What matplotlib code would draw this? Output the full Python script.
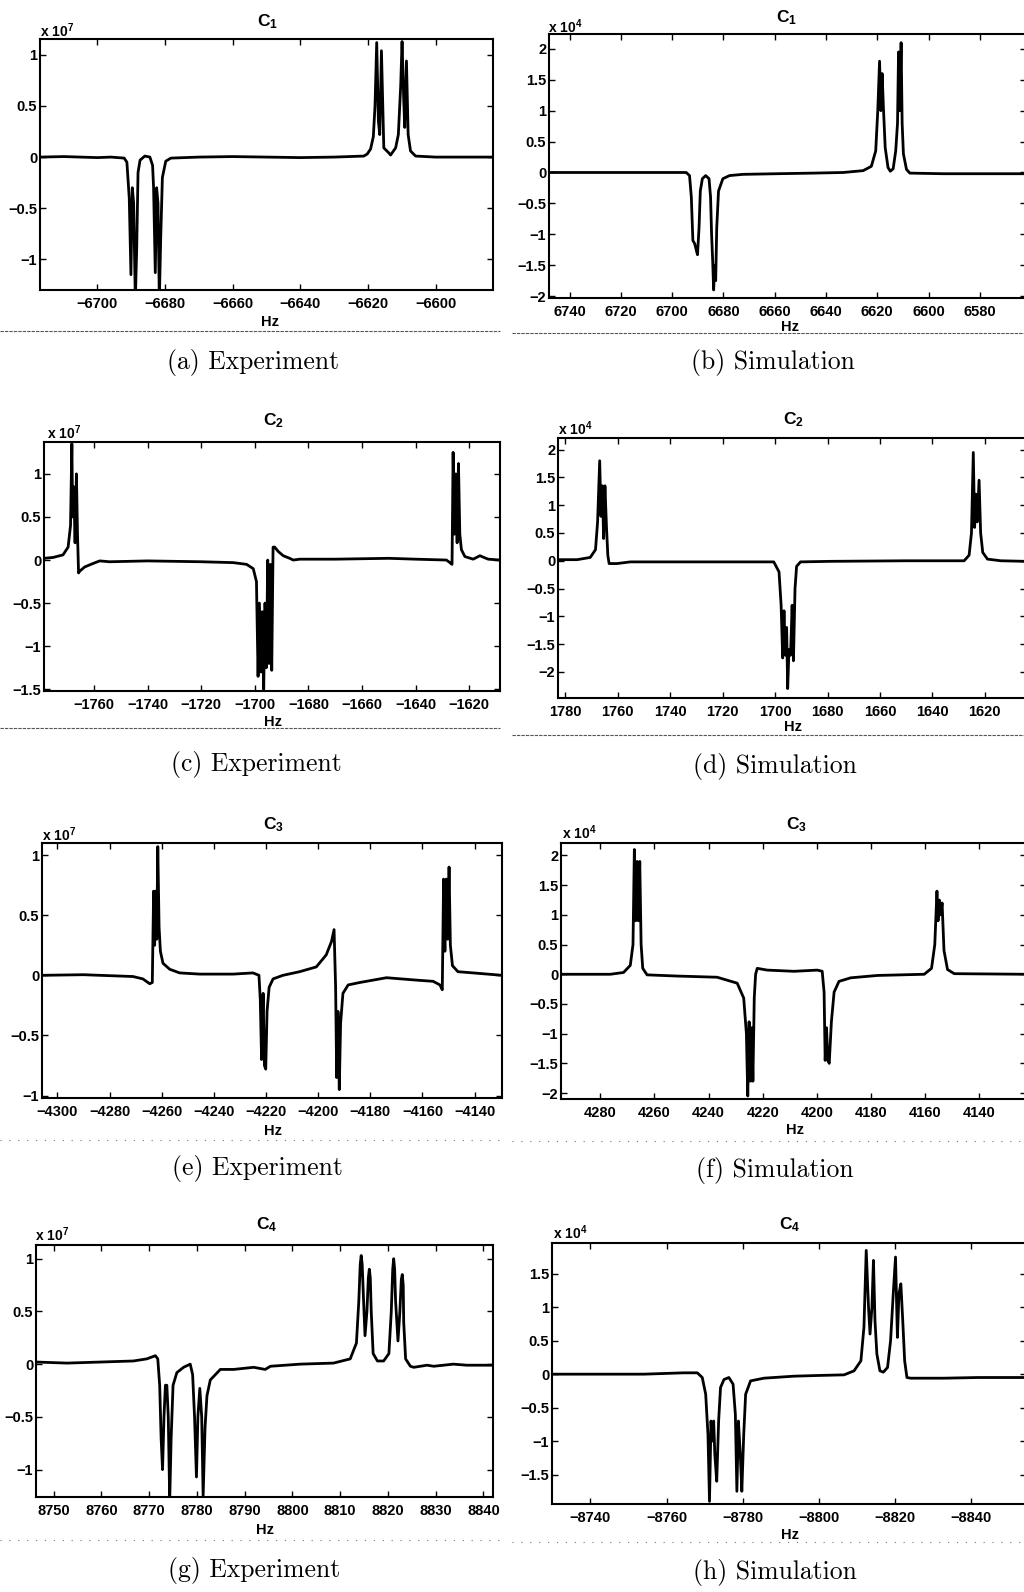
import numpy as np
import matplotlib
matplotlib.use('Agg')
import matplotlib.pyplot as plt
from matplotlib.ticker import FuncFormatter
from matplotlib.lines import Line2D

plt.rcParams['font.family'] = 'Liberation Sans'
plt.rcParams['font.weight'] = 'bold'
plt.rcParams['mathtext.fontset'] = 'custom'
plt.rcParams['mathtext.rm'] = 'Liberation Sans:bold'
plt.rcParams['mathtext.bf'] = 'Liberation Sans:bold'
plt.rcParams['mathtext.default'] = 'rm'

# ---------- spectra (amplitude in units of the axis multiplier) ----------
# (a) C1 experiment, x 10^7
a_hz = [-6717, -6710, -6700, -6696, -6692.1, -6691.3, -6690.6, -6690.1, -6689.7, -6689.3,
        -6688.8, -6688.4, -6688.0, -6687.4, -6686.0, -6684.5, -6683.7, -6683.4, -6682.9, -6682.5,
        -6682.1, -6681.7, -6681.3, -6680.8, -6679.8, -6678.3, -6670, -6660, -6650, -6640,
        -6630, -6621.2, -6620.2, -6619.2, -6618.4, -6617.9, -6617.4, -6616.9, -6616.5, -6616.0,
        -6615.3, -6613.8, -6613.3, -6611.8, -6611.0, -6610.3, -6609.9, -6609.4, -6609.1, -6608.6,
        -6608.1, -6607.4, -6605.9, -6600, -6590, -6583]
a_amp = [0.0, 0.005, -0.005, 0.0, -0.01, -0.05, -0.4, -1.15, -0.3, -0.45,
         -1.4, -0.9, -0.15, -0.03, 0.01, 0.0, -0.08, -0.3, -1.13, -0.3,
         -0.45, -1.4, -0.8, -0.2, -0.04, -0.01, 0.0, 0.005, 0.0, -0.005,
         0.0, 0.01, 0.03, 0.08, 0.2, 0.5, 1.12, 0.35, 0.22, 1.04,
         0.09, 0.04, 0.02, 0.09, 0.22, 0.7, 1.13, 0.55, 0.29, 0.94,
         0.22, 0.06, 0.01, 0.0, 0.0, 0.0]

# (b) C1 simulation, x 10^4
b_hz = [6748, 6730, 6710, 6694.5, 6693.2, 6692.5, 6691.9, 6691.2, 6690.6, 6690.1,
        6689.5, 6689.0, 6688.2, 6686.9, 6685.6, 6685.0, 6684.6, 6684.2, 6683.8, 6683.4,
        6683.0, 6682.6, 6681.9, 6680.2, 6677.6, 6672.4, 6659.3, 6645, 6633.3, 6625.5,
        6622.3, 6620.6, 6619.8, 6619.1, 6618.6, 6618.1, 6617.6, 6616.9, 6615.8, 6614.9,
        6613.8, 6612.8, 6612.1, 6611.7, 6611.2, 6610.7, 6610.3, 6609.8, 6608.6, 6607.3,
        6594.3, 6580, 6562]
b_amp = [0.0, 0.0, 0.0, 0.0, -0.05, -0.4, -1.1, -1.15, -1.25, -1.33,
         -0.9, -0.3, -0.1, -0.05, -0.1, -0.4, -1.0, -1.4, -1.9, -1.5,
         -1.75, -0.9, -0.3, -0.1, -0.05, -0.03, -0.02, -0.01, 0.0, 0.03,
         0.1, 0.35, 1.0, 1.8, 1.0, 1.6, 1.05, 0.4, 0.08, 0.02,
         0.06, 0.35, 0.8, 1.95, 1.0, 2.1, 0.8, 0.3, 0.05, -0.01,
         -0.02, -0.02, -0.02]

# (c) C2 experiment, x 10^7
c_hz = [-1778.7, -1775.3, -1771.6, -1769.7, -1768.8, -1768.3, -1768.0, -1767.6, -1767.1, -1766.6,
        -1766.2, -1765.8, -1765.4, -1763.5, -1760.4, -1757.9, -1754.2, -1740, -1720, -1708.1,
        -1703.1, -1700.6, -1699.4, -1698.8, -1698.3, -1697.7, -1697.2, -1696.7, -1696.2, -1695.7,
        -1695.2, -1694.7, -1694.2, -1693.7, -1693.2, -1692.6, -1691.3, -1689.4, -1687.0, -1685.7,
        -1683.2, -1670, -1650, -1640, -1628.5, -1627.2, -1626.4, -1626.0, -1625.5, -1625.0,
        -1624.5, -1624.0, -1623.5, -1622.9, -1621.6, -1618.5, -1616.0, -1614.5, -1612.9, -1608.5]
c_amp = [0.02, 0.03, 0.06, 0.15, 0.4, 1.35, 0.5, 0.85, 0.2, 1.0,
         0.3, -0.15, -0.13, -0.08, -0.04, -0.01, -0.02, -0.01, -0.02, -0.03,
         -0.05, -0.1, -0.25, -1.35, -0.5, -1.3, -0.6, -1.5, -0.5, -1.25,
         0.0, -1.2, -0.05, -1.28, 0.15, 0.15, 0.1, 0.05, 0.02, 0.0,
         0.01, 0.01, 0.02, 0.01, 0.0, -0.03, -0.05, 1.25, 0.3, 1.0,
         0.2, 1.12, 0.3, 0.12, 0.04, 0.01, 0.05, 0.03, 0.01, 0.0]

# (d) C2 simulation, x 10^4
d_hz = [1782.8, 1775.5, 1770.5, 1768.5, 1767.7, 1766.9, 1766.4, 1765.9, 1765.4, 1764.9,
        1764.3, 1763.8, 1763.3, 1760.3, 1755.2, 1737.4, 1720, 1700.5, 1698.5, 1697.7,
        1697.1, 1696.6, 1696.1, 1695.6, 1695.2, 1694.7, 1694.1, 1693.5, 1693.0, 1692.4,
        1691.8, 1690.3, 1678.8, 1650, 1627.9, 1626.0, 1625.1, 1624.4, 1623.9, 1623.4,
        1622.9, 1622.2, 1621.6, 1620.8, 1619.0, 1613.9, 1604.3]
d_amp = [0.02, 0.02, 0.06, 0.2, 0.7, 1.8, 0.8, 1.35, 0.4, 1.35,
         0.6, 0.1, -0.05, -0.05, -0.02, -0.02, -0.02, -0.02, -0.2, -0.8,
         -1.75, -0.9, -1.7, -1.2, -2.3, -1.6, -1.7, -0.8, -1.8, -0.5,
         -0.1, -0.02, -0.01, 0.0, 0.0, 0.1, 0.5, 1.95, 0.6, 1.2,
         0.7, 1.45, 0.5, 0.15, 0.03, 0.0, -0.01]

# (e) C3 experiment, x 10^7
e_hz = [-4305.9, -4290, -4283.8, -4271.0, -4267.2, -4264.6, -4263.6, -4263.1, -4262.7, -4262.3,
        -4261.9, -4261.5, -4261.0, -4260.5, -4259.5, -4256.9, -4253.1, -4245.4, -4232.6, -4225.0,
        -4222.7, -4222.2, -4221.7, -4221.1, -4220.6, -4220.1, -4219.6, -4218.8, -4217.3, -4213.5,
        -4207.1, -4200.7, -4196.9, -4194.9, -4193.9, -4193.3, -4192.9, -4192.4, -4191.9, -4191.4,
        -4190.5, -4188.5, -4184.1, -4173.8, -4162.3, -4155.9, -4153.3, -4152.4, -4151.9, -4151.4,
        -4150.9, -4150.3, -4149.8, -4149.3, -4148.5, -4146.4, -4140.6, -4129.5]
e_amp = [0.0, 0.005, 0.0, -0.01, -0.03, -0.07, -0.06, 0.7, 0.25, 0.7,
         0.3, 1.07, 0.4, 0.2, 0.1, 0.05, 0.02, 0.01, 0.01, 0.02,
         0.0, -0.2, -0.7, -0.15, -0.75, -0.78, -0.3, -0.1, -0.03, 0.0,
         0.03, 0.07, 0.17, 0.28, 0.38, -0.1, -0.85, -0.3, -0.95, -0.4,
         -0.15, -0.08, -0.06, -0.02, -0.04, -0.05, -0.08, -0.12, 0.8, 0.2,
         0.8, 0.3, 0.9, 0.25, 0.08, 0.03, 0.02, 0.0]

# (f) C3 simulation, x 10^4
f_hz = [4294.5, 4276.3, 4271.4, 4268.9, 4267.9, 4267.4, 4266.9, 4266.4, 4265.9, 4265.4,
        4264.9, 4264.3, 4262.7, 4251.6, 4236.8, 4229.4, 4227.0, 4226.0, 4225.5, 4225.0,
        4224.5, 4224.0, 4223.6, 4223.1, 4222.6, 4222.0, 4218.3, 4208.4, 4199.8, 4198.0,
        4197.3, 4196.9, 4196.4, 4195.9, 4195.4, 4194.6, 4193.6, 4191.8, 4187.5, 4177.6,
        4160.3, 4157.6, 4156.4, 4155.6, 4155.2, 4154.7, 4154.2, 4153.7, 4153.0, 4151.7,
        4149.2, 4122.7]
f_amp = [0.0, 0.0, 0.03, 0.15, 0.5, 2.1, 0.9, 1.9, 0.9, 1.9,
         0.5, 0.1, -0.01, -0.03, -0.05, -0.15, -0.4, -1.0, -2.05, -0.8,
         -1.8, -0.9, -1.8, -0.4, 0.0, 0.1, 0.07, 0.05, 0.07, 0.05,
         -0.3, -1.45, -0.9, -1.45, -1.5, -0.8, -0.3, -0.12, -0.06, -0.02,
         0.0, 0.1, 0.5, 1.4, 0.9, 1.25, 1.0, 1.2, 0.4, 0.08,
         0.01, 0.0]

# (g) C4 experiment, x 10^7
g_hz = [8746.3, 8752.8, 8759.8, 8766.7, 8769.5, 8771.3, 8771.8, 8772.2, 8772.5, 8772.8,
        8773.1, 8773.4, 8773.7, 8774.0, 8774.3, 8774.6, 8775.0, 8775.8, 8777.2, 8778.6,
        8779.1, 8779.5, 8779.9, 8780.2, 8780.6, 8781.0, 8781.3, 8781.7, 8782.1, 8782.8,
        8784.9, 8787.7, 8791.9, 8794.3, 8795.4, 8801.6, 8808.6, 8812.1, 8813.4, 8813.9,
        8814.2, 8814.4, 8814.6, 8814.9, 8815.2, 8815.6, 8815.9, 8816.1, 8816.3, 8816.5,
        8816.9, 8817.8, 8819.1, 8820.2, 8820.7, 8821.0, 8821.2, 8821.4, 8821.6, 8822.1,
        8822.5, 8822.8, 8823.0, 8823.2, 8823.3, 8823.7, 8824.7, 8825.4, 8828.2, 8829.6,
        8833.7, 8836.5, 8842.0]
g_amp = [0.02, 0.01, 0.02, 0.03, 0.05, 0.08, 0.05, -0.2, -0.7, -1.0,
         -0.5, -0.2, -0.2, -0.5, -1.3, -0.7, -0.2, -0.08, -0.03, 0.0,
         -0.1, -0.5, -1.07, -0.5, -0.23, -0.5, -1.25, -0.6, -0.3, -0.15,
         -0.05, -0.05, -0.03, -0.05, -0.02, 0.0, 0.01, 0.05, 0.2, 0.6,
         0.95, 1.03, 0.95, 0.6, 0.27, 0.5, 0.82, 0.9, 0.82, 0.5,
         0.1, 0.03, 0.03, 0.1, 0.5, 0.9, 1.0, 0.9, 0.6, 0.22,
         0.5, 0.8, 0.85, 0.75, 0.4, 0.05, -0.02, -0.03, -0.01, -0.02,
         0.0, -0.01, -0.01]

# (h) C4 simulation, x 10^4
h_hz = [-8729.9, -8745.3, -8754.0, -8764.6, -8768.1, -8769.4, -8770.3, -8770.9, -8771.3, -8771.7,
        -8772.0, -8772.4, -8772.7, -8773.2, -8773.7, -8774.2, -8775.1, -8776.4, -8777.5, -8778.1,
        -8778.5, -8778.9, -8779.4, -8779.8, -8780.3, -8780.8, -8782.1, -8785.6, -8793.5, -8799.6,
        -8806.7, -8809.3, -8811.1, -8811.9, -8812.5, -8813.1, -8813.5, -8814.0, -8814.4, -8814.8,
        -8815.3, -8816.1, -8817.0, -8818.1, -8818.9, -8819.6, -8820.2, -8820.7, -8821.1, -8821.6,
        -8822.1, -8822.6, -8823.2, -8824.2, -8833.0, -8841.8, -8854.5]
h_amp = [0.0, 0.0, 0.0, 0.02, 0.02, -0.05, -0.3, -0.9, -1.9, -0.7,
         -1.0, -0.7, -1.2, -1.6, -0.7, -0.2, -0.08, -0.05, -0.15, -0.6,
         -1.75, -0.7, -1.2, -1.75, -0.9, -0.3, -0.1, -0.06, -0.03, -0.02,
         -0.01, 0.05, 0.2, 0.7, 1.85, 1.0, 0.6, 1.0, 1.7, 0.8,
         0.3, 0.05, 0.03, 0.1, 0.5, 1.2, 1.75, 0.55, 1.2, 1.35,
         0.8, 0.2, -0.05, -0.06, -0.06, -0.05, -0.05]

titles = ['C$_{1}$', 'C$_{1}$', 'C$_{2}$', 'C$_{2}$', 'C$_{3}$', 'C$_{3}$', 'C$_{4}$', 'C$_{4}$']
powers = [7, 4, 7, 4, 7, 4, 7, 4]
captions = ['(a) Experiment', '(b) Simulation', '(c) Experiment', '(d) Simulation',
            '(e) Experiment', '(f) Simulation', '(g) Experiment', '(h) Simulation']

# ---------- layout in image pixels (1024 x 1592) ----------
W, H = 1024, 1592

panels = [
    # data, xlim, ylim, xticks, yticks, axes box (l, t, r, b), title xy, exponent xy, Hz xy, caption xy
    (a_hz, a_amp, (-6717, -6583), (-1.30, 1.155), np.arange(-6700, -6599, 20), np.arange(-1, 1.01, 0.5),
     (40, 39, 493, 290), (268, 22), (40, 31), (270, 322), (253, 362)),
    (b_hz, b_amp, (6748, 6562), (-2.03, 2.24), np.arange(6740, 6579, -20), np.arange(-2, 2.01, 0.5),
     (549, 34, 1026, 298), (787, 18), (548, 27), (790, 327), (773, 362)),
    (c_hz, c_amp, (-1778.7, -1608.5), (-1.52, 1.37), np.arange(-1760, -1619, 20), np.arange(-1.5, 1.01, 0.5),
     (44, 442, 500, 691), (273, 421), (47, 433), (273, 722), (256, 765)),
    (d_hz, d_amp, (1782.8, 1604.3), (-2.47, 2.21), np.arange(1780, 1619, -20), np.arange(-2, 2.01, 0.5),
     (558, 438, 1026, 698), (793, 420), (558, 429), (793, 727), (775, 767)),
    (e_hz, e_amp, (-4305.9, -4129.5), (-1.02, 1.10), np.arange(-4300, -4139, 20), np.arange(-1, 1.01, 0.5),
     (42, 843, 502, 1098), (273, 825), (42, 835), (273, 1131), (257, 1169)),
    (f_hz, f_amp, (4294.5, 4122.7), (-2.10, 2.21), np.arange(4280, 4139, -20), np.arange(-2, 2.01, 0.5),
     (561, 843, 1026, 1099), (796, 825), (562, 833), (795, 1130), (775, 1171)),
    (g_hz, g_amp, (8746.3, 8842.0), (-1.26, 1.13), np.arange(8750, 8841, 10), np.arange(-1, 1.01, 0.5),
     (36, 1245, 493, 1497), (267, 1225), (35, 1235), (265, 1530), (254, 1571)),
    (h_hz, h_amp, (-8729.9, -8854.5), (-1.94, 1.96), np.arange(-8740, -8841, -20), np.arange(-1.5, 1.51, 0.5),
     (552, 1243, 1026, 1504), (790, 1225), (553, 1233), (790, 1535), (775, 1573)),
]

separators = [
    (0, 500, 331, 'solid'), (512, 1024, 333, 'solid'),
    (0, 500, 728, 'solid'), (512, 1024, 735, 'solid'),
    (0, 500, 1140, 'sparse'), (512, 1024, 1141, 'sparse'),
    (0, 500, 1540, 'sparse'), (512, 1024, 1542, 'sparse'),
]


def fx(x):
    return x / W


def fy(y):
    return 1 - y / H


def tick_fmt(v, pos):
    s = '%g' % round(v, 6)
    return s.replace('-', '\u2212')


fig = plt.figure(figsize=(W / 100, H / 100), dpi=100)
fig.patch.set_facecolor('white')

for i, (hz, amp, xlim, ylim, xt, yt, box, tpos, epos, hpos, cpos) in enumerate(panels):
    l, t, r, b = box
    ax = fig.add_axes([fx(l), fy(b), (r - l) / W, (b - t) / H])
    ax.plot(hz, amp, color='black', linewidth=2.0, solid_joinstyle='round')
    ax.set_xlim(*xlim)
    ax.set_ylim(*ylim)
    ax.set_xticks(xt)
    ax.set_yticks(yt)
    ax.xaxis.set_major_formatter(FuncFormatter(tick_fmt))
    ax.yaxis.set_major_formatter(FuncFormatter(tick_fmt))
    ax.tick_params(direction='in', top=True, right=True, length=4, width=1,
                   labelsize=10.5, colors='black')
    ax.tick_params(axis='x', pad=5)
    ax.tick_params(axis='y', pad=2)
    for lab in ax.get_xticklabels() + ax.get_yticklabels():
        lab.set_fontweight('bold')
    for sp in ax.spines.values():
        sp.set_linewidth(1.5)

    fig.text(fx(tpos[0]), fy(tpos[1]), titles[i], ha='center', va='center',
             fontsize=12.5, fontweight='bold')
    fig.text(fx(epos[0]), fy(epos[1]), 'x 10$^{%d}$' % powers[i], ha='left', va='center',
             fontsize=10, fontweight='bold')
    fig.text(fx(hpos[0]), fy(hpos[1]), 'Hz', ha='center', va='center',
             fontsize=10.5, fontweight='bold')
    fig.text(fx(cpos[0]), fy(cpos[1]), captions[i], ha='center', va='center',
             fontsize=18.5, fontfamily='cmr10', fontweight='normal')

for x0, x1, y, kind in separators:
    if kind == 'solid':
        ln = Line2D([fx(x0), fx(x1)], [fy(y), fy(y)], transform=fig.transFigure,
                    color='#555555', linewidth=0.8, linestyle=(0, (3, 1)))
    else:
        ln = Line2D([fx(x0), fx(x1)], [fy(y), fy(y)], transform=fig.transFigure,
                    color='#777777', linewidth=0.8, linestyle=(0, (1, 7)))
    fig.add_artist(ln)

fig.savefig('out.png', dpi=100)
